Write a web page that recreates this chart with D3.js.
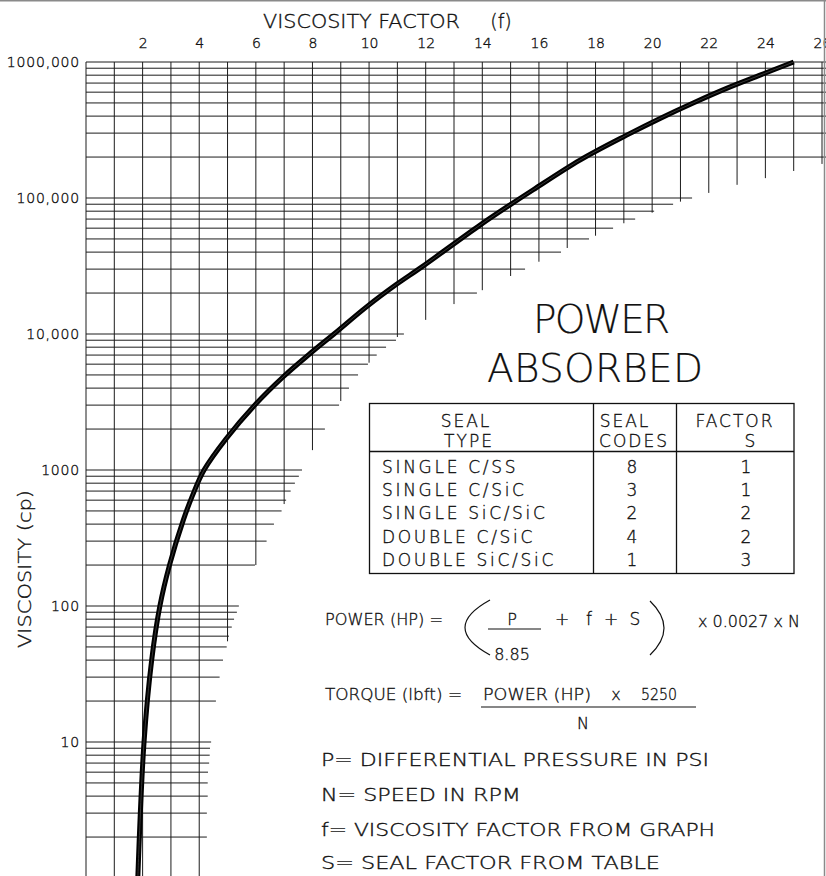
<!DOCTYPE html>
<html>
<head>
<meta charset="utf-8">
<script src="https://cdn.jsdelivr.net/npm/d3@7.9.0/dist/d3.min.js"></script>
<style>
  html, body { margin: 0; padding: 0; background: #fff; }
  svg { display: block; }
  text { font-family: "DejaVu Sans", sans-serif; font-weight: 200; fill: #111; stroke: #111; stroke-width: 0.35px; }
</style>
</head>
<body>
<svg id="chart" width="826" height="876"></svg>
<script>
// top axis (viscosity factor f) and left axis (viscosity, cp)
const xTicks = [2, 4, 6, 8, 10, 12, 14, 16, 18, 20, 22, 24, 26];
const yTicks = [10, 100, 1000, 10000, 100000, 1000000];
const yTickLabels = ["10", "100", "1000", "10,000", "100,000", "1000,000"];

// curve: viscosity (cp) -> factor f
const curveViscosity = [1, 10, 40, 100, 200, 430, 640, 1000, 1700, 3000, 4850, 7400,
  10000, 15900, 23200, 31300, 63200, 89000, 115000, 190000, 290000, 385000, 500000,
  640000, 800000, 1000000];
const curveFactor = [1.83, 2.05, 2.32, 2.61, 2.95, 3.44, 3.75, 4.17, 4.95, 5.96, 6.97, 7.99,
  8.76, 9.92, 10.97, 11.88, 13.92, 14.98, 15.8, 17.45, 19.1, 20.28, 21.45,
  22.63, 23.81, 25.0];

// horizontal grid lines: viscosity and the factor where the line stops
const hLineViscosity = [
  1, 2, 3, 4, 5, 6, 7, 8, 9,
  10, 20, 30, 40, 50, 60, 70, 80, 90,
  100, 200, 300, 400, 500, 600, 700, 800, 900,
  1000, 2000, 3000, 4000, 5000, 6000, 7000, 8000, 9000,
  10000, 20000, 30000, 40000, 50000, 60000, 70000, 80000, 90000,
  100000, 200000, 300000, 400000, 500000, 600000, 700000, 800000, 900000,
  1000000];
const hLineEndFactor = [
  4.27, 4.27, 4.27, 4.3, 4.3, 4.31, 4.35, 4.37, 4.38,
  4.42, 4.59, 4.72, 4.84, 4.97, 5.05, 5.15, 5.23, 5.33,
  5.4, 5.97, 6.38, 6.64, 6.91, 7.07, 7.23, 7.38, 7.52,
  7.63, 8.44, 8.94, 9.29, 9.61, 9.96, 10.27, 10.6, 10.95,
  11.23, 13.81, 15.51, 16.78, 17.77, 18.62, 19.4, 20.07, 20.74,
  21.41, 26.2, 26.2, 26.2, 26.2, 26.2, 26.2, 26.2, 26.2,
  26.2];

// vertical grid lines: factor and the viscosity where the line stops
const vLineFactor = [0, 1, 2, 3, 4, 5, 6, 7, 8, 9, 10, 11, 12, 13, 14, 15, 16, 17, 18,
  19, 20, 21, 22, 23, 24, 25, 26];
const vLineEndViscosity = [1, 1, 1, 1, 1, 55, 200, 562, 1400, 3215, 6150, 9500, 12700,
  16600, 21000, 26700, 34000, 42900, 52800, 65200, 78000, 94000, 109000, 125000,
  140000, 158000, 178000];

// seal table
const sealTypes = ["SINGLE C/SS", "SINGLE C/SiC", "SINGLE SiC/SiC", "DOUBLE C/SiC", "DOUBLE SiC/SiC"];
const sealCodes = ["8", "3", "2", "4", "1"];
const sealFactors = ["1", "1", "2", "2", "3"];

const notes = [
  "P=  DIFFERENTIAL PRESSURE IN PSI",
  "N=  SPEED IN RPM",
  "f=  VISCOSITY FACTOR FROM GRAPH",
  "S=  SEAL FACTOR FROM TABLE",
];

const svg = d3.select("#chart");
svg.append("rect").attr("width", 826).attr("height", 876).attr("fill", "#fff");

const x = d3.scaleLinear().domain([0, 26]).range([86, 822]);
const y = d3.scaleLog().domain([1, 1e6]).range([878, 62]);

const grid = svg.append("g").attr("stroke", "#1c1c1c").attr("stroke-width", 1);

grid.selectAll("line.h")
  .data(hLineViscosity)
  .join("line")
  .attr("class", "h")
  .attr("x1", x(0))
  .attr("x2", (d, i) => x(hLineEndFactor[i]))
  .attr("y1", (d) => y(d))
  .attr("y2", (d) => y(d));

grid.selectAll("line.v")
  .data(vLineFactor)
  .join("line")
  .attr("class", "v")
  .attr("x1", (d) => x(d))
  .attr("x2", (d) => x(d))
  .attr("y1", y(1e6))
  .attr("y2", (d, i) => y(vLineEndViscosity[i]));

// curve
const curvePoints = curveViscosity.map((v, i) => [curveFactor[i], v]);
const line = d3.line()
  .x((d) => x(d[0]))
  .y((d) => y(d[1]))
  .curve(d3.curveCatmullRom.alpha(0.5));

svg.append("path")
  .datum(curvePoints)
  .attr("d", line)
  .attr("fill", "none")
  .attr("stroke", "#000")
  .attr("stroke-width", 5)
  .attr("stroke-linecap", "butt");

svg.append("path")
  .datum(curvePoints)
  .attr("d", line)
  .attr("fill", "none")
  .attr("stroke", "#444")
  .attr("stroke-width", 0.8);

// axes
const topAxis = svg.append("g")
  .attr("transform", `translate(0,${y(1e6)})`)
  .call(d3.axisTop(x).tickValues(xTicks).tickSize(0).tickPadding(14).tickFormat(d3.format("d")));
topAxis.select(".domain").remove();
topAxis.selectAll("text")
  .attr("font-family", "DejaVu Sans")
  .attr("font-size", 14)
  .attr("fill", "#111");

const leftAxis = svg.append("g")
  .attr("transform", `translate(${x(0)},0)`)
  .call(d3.axisLeft(y).tickValues(yTicks).tickSize(0).tickPadding(6)
    .tickFormat((d, i) => yTickLabels[i]));
leftAxis.select(".domain").remove();
leftAxis.selectAll("text")
  .attr("font-family", "DejaVu Sans")
  .attr("font-size", 14)
  .attr("letter-spacing", 0.8)
  .attr("fill", "#111");

// axis titles
svg.append("text")
  .attr("x", 263).attr("y", 28)
  .attr("font-size", 19)
  .attr("textLength", 197)
  .attr("lengthAdjust", "spacingAndGlyphs")
  .text("VISCOSITY FACTOR");
svg.append("text")
  .attr("x", 501).attr("y", 28)
  .attr("font-size", 19)
  .attr("text-anchor", "middle")
  .text("(f)");

svg.append("text")
  .attr("transform", "translate(31,569) rotate(-90)")
  .attr("font-size", 18)
  .attr("text-anchor", "middle")
  .attr("textLength", 158)
  .attr("lengthAdjust", "spacingAndGlyphs")
  .text("VISCOSITY  (cp)");

// big title
svg.append("text")
  .attr("x", 533).attr("y", 333)
  .attr("font-size", 39)
  .attr("textLength", 137)
  .style("stroke-width", "0.2px")
  .text("POWER");
svg.append("text")
  .attr("x", 487).attr("y", 382)
  .attr("font-size", 39)
  .attr("textLength", 216)
  .style("stroke-width", "0.2px")
  .text("ABSORBED");

// table
const table = svg.append("g");
const tLeft = 369.5, tRight = 794, tTop = 403.5, tBottom = 573.5;
const col1 = 593.5, col2 = 676.5, headLine = 451.5;
table.append("rect")
  .attr("x", tLeft).attr("y", tTop)
  .attr("width", tRight - tLeft).attr("height", tBottom - tTop)
  .attr("fill", "none").attr("stroke", "#111").attr("stroke-width", 1.3);
table.selectAll("line.col")
  .data([col1, col2])
  .join("line")
  .attr("x1", (d) => d).attr("x2", (d) => d)
  .attr("y1", tTop).attr("y2", tBottom)
  .attr("stroke", "#111").attr("stroke-width", 1.3);
table.append("line")
  .attr("x1", tLeft).attr("x2", tRight)
  .attr("y1", headLine).attr("y2", headLine)
  .attr("stroke", "#111").attr("stroke-width", 1.3);

const header = [
  ["SEAL", 466, 427], ["TYPE", 469, 447],
  ["SEAL", 625, 427], ["CODES", 634, 447],
  ["FACTOR", 735, 427], ["S", 751, 447],
];
table.selectAll("text.head")
  .data(header)
  .join("text")
  .attr("class", "head")
  .attr("x", (d) => d[1]).attr("y", (d) => d[2])
  .attr("font-size", 17)
  .attr("letter-spacing", 2)
  .attr("text-anchor", "middle")
  .text((d) => d[0]);

const rowY = (i) => 473 + i * 23.2;
table.selectAll("text.type")
  .data(sealTypes)
  .join("text")
  .attr("class", "type")
  .attr("x", 382).attr("y", (d, i) => rowY(i))
  .attr("font-size", 17)
  .attr("letter-spacing", 2.7)
  .text((d) => d);
table.selectAll("text.code")
  .data(sealCodes)
  .join("text")
  .attr("class", "code")
  .attr("x", 632).attr("y", (d, i) => rowY(i))
  .attr("font-size", 17)
  .attr("text-anchor", "middle")
  .text((d) => d);
table.selectAll("text.factor")
  .data(sealFactors)
  .join("text")
  .attr("class", "factor")
  .attr("x", 746).attr("y", (d, i) => rowY(i))
  .attr("font-size", 17)
  .attr("text-anchor", "middle")
  .text((d) => d);

// formulas
const f = svg.append("g").attr("font-size", 16);
const stretch = (sel, len) => sel.attr("textLength", len).attr("lengthAdjust", "spacingAndGlyphs");

f.append("text").attr("x", 325).attr("y", 625).call(stretch, 118).text("POWER (HP) =");
f.append("path")
  .attr("d", "M490,600 Q440,627.5 490,655")
  .attr("fill", "none").attr("stroke", "#111").attr("stroke-width", 1.2);
f.append("text").attr("x", 512).attr("y", 625).attr("text-anchor", "middle").text("P");
f.append("line").attr("x1", 488).attr("x2", 541).attr("y1", 629).attr("y2", 629)
  .attr("stroke", "#111").attr("stroke-width", 1.2);
f.append("text").attr("x", 512).attr("y", 660).attr("text-anchor", "middle").text("8.85");
f.append("text").attr("x", 562).attr("y", 625).attr("font-size", 17).attr("text-anchor", "middle").text("+");
f.append("text").attr("x", 589).attr("y", 625).attr("font-size", 17).attr("text-anchor", "middle").text("f");
f.append("text").attr("x", 611).attr("y", 625).attr("font-size", 17).attr("text-anchor", "middle").text("+");
f.append("text").attr("x", 635).attr("y", 625).attr("font-size", 17).attr("text-anchor", "middle").text("S");
f.append("path")
  .attr("d", "M650,601 Q678,628 650,655")
  .attr("fill", "none").attr("stroke", "#111").attr("stroke-width", 1.2);
f.append("text").attr("x", 698).attr("y", 627).call(stretch, 102).text("x 0.0027 x N");

f.append("text").attr("x", 325).attr("y", 700).call(stretch, 137).text("TORQUE (lbft) =");
f.append("text").attr("x", 483).attr("y", 700).call(stretch, 108).text("POWER (HP)");
f.append("text").attr("x", 616).attr("y", 700).attr("text-anchor", "middle").text("x");
f.append("text").attr("x", 641).attr("y", 700).call(stretch, 36).text("5250");
f.append("line").attr("x1", 481).attr("x2", 696).attr("y1", 707).attr("y2", 707)
  .attr("stroke", "#111").attr("stroke-width", 1.2);
f.append("text").attr("x", 583).attr("y", 729).attr("text-anchor", "middle").text("N");

// notes
const noteLengths = [388, 200, 394, 339];
const noteY = [766, 801, 836, 869];
svg.selectAll("text.note")
  .data(notes)
  .join("text")
  .attr("class", "note")
  .attr("x", 321).attr("y", (d, i) => noteY[i])
  .attr("font-size", 17)
  .attr("textLength", (d, i) => noteLengths[i])
  .attr("lengthAdjust", "spacingAndGlyphs")
  .text((d) => d);

// outer frame edges
svg.append("line").attr("x1", 0).attr("x2", 826).attr("y1", 0.75).attr("y2", 0.75)
  .attr("stroke", "#8a8a8a").attr("stroke-width", 1.5);
svg.append("line").attr("x1", 824.5).attr("x2", 824.5).attr("y1", 0).attr("y2", 876)
  .attr("stroke", "#8a8a8a").attr("stroke-width", 1.5);
</script>
</body>
</html>
